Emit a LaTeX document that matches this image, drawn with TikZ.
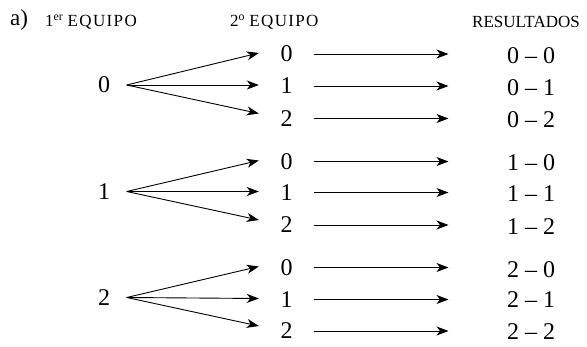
\documentclass[tikz,border=0pt]{standalone}
\usepackage{fontspec}
\setmainfont{Liberation Serif}
\usetikzlibrary{arrows.meta}
\begin{document}
\begin{tikzpicture}[x=1pt,y=-1pt,
  num/.style={font=\fontsize{24}{28}\selectfont, inner ysep=0pt},
  root/.style={num, inner xsep=16.5pt},
  child/.style={num, inner xsep=21.5pt},
  res/.style={num, inner xsep=0pt},
  head/.style={font=\fontsize{17}{20}\selectfont, anchor=base west, inner sep=0pt},
  arr/.style={-{Stealth[length=12pt,width=9pt,inset=3.5pt]}, line width=0.9pt}]
\useasboundingbox (0,0) rectangle (587,347);
% headers
\node[head, font=\fontsize{23}{26}\selectfont] (ha) at (10,26) {a)};
\node[head] (h1) at (45,27) {1\textsuperscript{er} {\addfontfeature{LetterSpace=8}EQUIPO}};
\node[head] (h2) at (230,27) {2\textsuperscript{o} {\addfontfeature{LetterSpace=8}EQUIPO}};
\node[head] (h3) at (472,28) {RESULTADOS};
% roots
\node[root] (a0) at (104,85) {0};
\node[root] (a1) at (104,191.5) {1};
\node[root] (a2) at (104,297.5) {2};
% children
\node[child] (c00) at (286.5,54) {0};
\node[child] (c01) at (286.5,86) {1};
\node[child] (c02) at (286.5,118.5) {2};
\node[child] (c10) at (286.5,161.5) {0};
\node[child] (c11) at (286.5,192.5) {1};
\node[child] (c12) at (286.5,225) {2};
\node[child] (c20) at (286.5,267.5) {0};
\node[child] (c21) at (286.5,299.5) {1};
\node[child] (c22) at (286.5,331) {2};
% results
\node[res] (r00) at (531,55.5) {0 – 0};
\node[res] (r01) at (531,87.5) {0 – 1};
\node[res] (r02) at (531,120) {0 – 2};
\node[res] (r10) at (531,162.5) {1 – 0};
\node[res] (r11) at (531,193.5) {1 – 1};
\node[res] (r12) at (531,226.5) {1 – 2};
\node[res] (r20) at (531,269.5) {2 – 0};
\node[res] (r21) at (531,300) {2 – 1};
\node[res] (r22) at (531,332) {2 – 2};
% arrows
\foreach \g in {0,1,2}{
  \draw[arr] (a\g.east) -- ([yshift=1pt]c\g0.west);
  \draw[arr] (a\g.east) -- ([yshift=1pt]c\g1.west);
  \draw[arr] (a\g.east) -- ([yshift=5pt]c\g2.west);
  \foreach \c in {0,1,2}{
    \draw[arr] (c\g\c.east) -- (c\g\c.east -| 448.5,0);
  }
}
\end{tikzpicture}
\end{document}
